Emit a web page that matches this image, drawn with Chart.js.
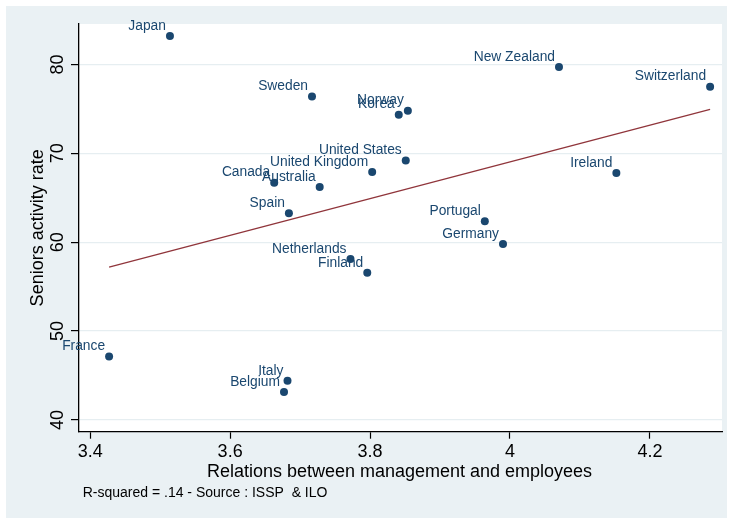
<!DOCTYPE html>
<html>
<head>
<meta charset="utf-8">
<script src="https://cdn.jsdelivr.net/npm/chart.js@4.4.1/dist/chart.umd.min.js"></script>
<style>
  html, body { margin: 0; padding: 0; background: #ffffff; }
  #wrap { width: 730px; height: 519px; }
</style>
</head>
<body>
<div id="wrap"><canvas id="c" width="730" height="519"></canvas></div>
<script>
// ---- Data ----
const countries = ["Japan","New Zealand","Switzerland","Sweden","Norway","Korea","United States","United Kingdom","Ireland","Canada","Australia","Spain","Portugal","Germany","Netherlands","Finland","France","Italy","Belgium"];
const relations = [3.514, 4.070, 4.286, 3.717, 3.854, 3.841, 3.851, 3.803, 4.152, 3.663, 3.728, 3.684, 3.964, 3.990, 3.772, 3.796, 3.427, 3.682, 3.677];
const activity  = [83.2, 79.7, 77.5, 76.4, 74.8, 74.35, 69.2, 67.9, 67.8, 66.7, 66.2, 63.25, 62.35, 59.8, 58.1, 56.55, 47.15, 44.4, 43.15];
const fitX = [3.427, 4.286];
const fitY = [57.2, 74.95];
const xTicks = [3.4, 3.6, 3.8, 4, 4.2];
const xTickLabels = ["3.4", "3.6", "3.8", "4", "4.2"];
const yTicks = [40, 50, 60, 70, 80];
const yTickLabels = ["40", "50", "60", "70", "80"];
const xTitle = "Relations between management and employees";
const yTitle = "Seniors activity rate";
const note = "R-squared = .14 - Source : ISSP  & ILO";

const FONT = '"Liberation Sans", Arial, Helvetica, sans-serif';
const NAVY = '#1a476f';
const MAROON = '#90353b';
const BG = '#eaf1f4';

const bgPlugin = {
  id: 'bg',
  beforeDraw(chart) {
    const {ctx, chartArea: a} = chart;
    ctx.save();
    ctx.fillStyle = '#ffffff';
    ctx.fillRect(0, 0, chart.width, chart.height);
    ctx.fillStyle = BG;
    ctx.fillRect(6, 6, 721, 512);
    ctx.fillStyle = '#ffffff';
    ctx.fillRect(a.left, a.top, a.right - a.left, a.bottom - a.top);
    ctx.restore();
  }
};

const textPlugin = {
  id: 'texts',
  afterDraw(chart) {
    const {ctx, chartArea: a} = chart;
    const xs = chart.scales.x, ys = chart.scales.y;
    ctx.save();
    // y tick labels (rotated)
    ctx.fillStyle = '#000';
    ctx.font = '18px ' + FONT;
    ctx.textAlign = 'center';
    ctx.textBaseline = 'alphabetic';
    yTicks.forEach((v, i) => {
      const py = ys.getPixelForValue(v);
      ctx.save();
      ctx.translate(63.3, py);
      ctx.rotate(-Math.PI / 2);
      ctx.fillText(yTickLabels[i], 0, 0);
      ctx.restore();
    });
    // y title
    ctx.save();
    ctx.translate(43.2, (a.top + a.bottom) / 2);
    ctx.rotate(-Math.PI / 2);
    ctx.fillText(yTitle, 0, 0);
    ctx.restore();
    // x title
    ctx.fillText(xTitle, (a.left + a.right) / 2 - 1, 476.7);
    // note
    ctx.font = '14px ' + FONT;
    ctx.textAlign = 'left';
    ctx.fillText(note, 82.7, 497.3);
    // point labels
    ctx.font = '13.8px ' + FONT;
    ctx.fillStyle = NAVY;
    ctx.textAlign = 'right';
    countries.forEach((c, i) => {
      const px = xs.getPixelForValue(relations[i]);
      const py = ys.getPixelForValue(activity[i]);
      ctx.fillText(c, px - 4, py - 6.3);
    });
    ctx.restore();
  }
};

new Chart(document.getElementById('c'), {
  data: {
    datasets: [
      {
        type: 'scatter',
        label: 'Countries',
        data: relations.map((x, i) => ({x: x, y: activity[i]})),
        backgroundColor: NAVY,
        borderWidth: 0,
        pointRadius: 4,
        order: 1
      },
      {
        type: 'line',
        label: 'Fit',
        data: fitX.map((x, i) => ({x: x, y: fitY[i]})),
        borderColor: MAROON,
        borderWidth: 1.3,
        pointRadius: 0,
        fill: false,
        order: 2
      }
    ]
  },
  options: {
    responsive: false,
    animation: false,
    devicePixelRatio: 1,
    layout: { padding: { left: 0, top: 24, right: 8, bottom: 0 } },
    plugins: { legend: { display: false }, tooltip: { enabled: false } },
    scales: {
      x: {
        type: 'linear',
        min: 3.384,
        max: 4.303,
        afterBuildTicks: s => { s.ticks = xTicks.map(v => ({value: v})); },
        afterFit: s => { s.height = 87.3; },
        ticks: {
          callback: (v) => { const i = xTicks.indexOf(v); return i >= 0 ? xTickLabels[i] : ''; },
          font: { family: FONT, size: 18 },
          color: '#000',
          padding: 3,
          maxRotation: 0,
          autoSkip: false
        },
        grid: { drawOnChartArea: false, drawTicks: true, tickLength: 7, tickColor: '#000', tickWidth: 1.2 },
        border: { display: true, color: '#000', width: 1.3 }
      },
      y: {
        type: 'linear',
        min: 38.68,
        max: 84.55,
        afterBuildTicks: s => { s.ticks = yTicks.map(v => ({value: v})); },
        afterFit: s => { s.width = 79; },
        ticks: { display: false },
        grid: { drawOnChartArea: true, color: '#e6eef1', lineWidth: 1.2, drawTicks: true, tickLength: 8, tickColor: '#000', tickWidth: 1.2 },
        border: { display: true, color: '#000', width: 1.3 }
      }
    }
  },
  plugins: [bgPlugin, textPlugin]
});
</script>
</body>
</html>
